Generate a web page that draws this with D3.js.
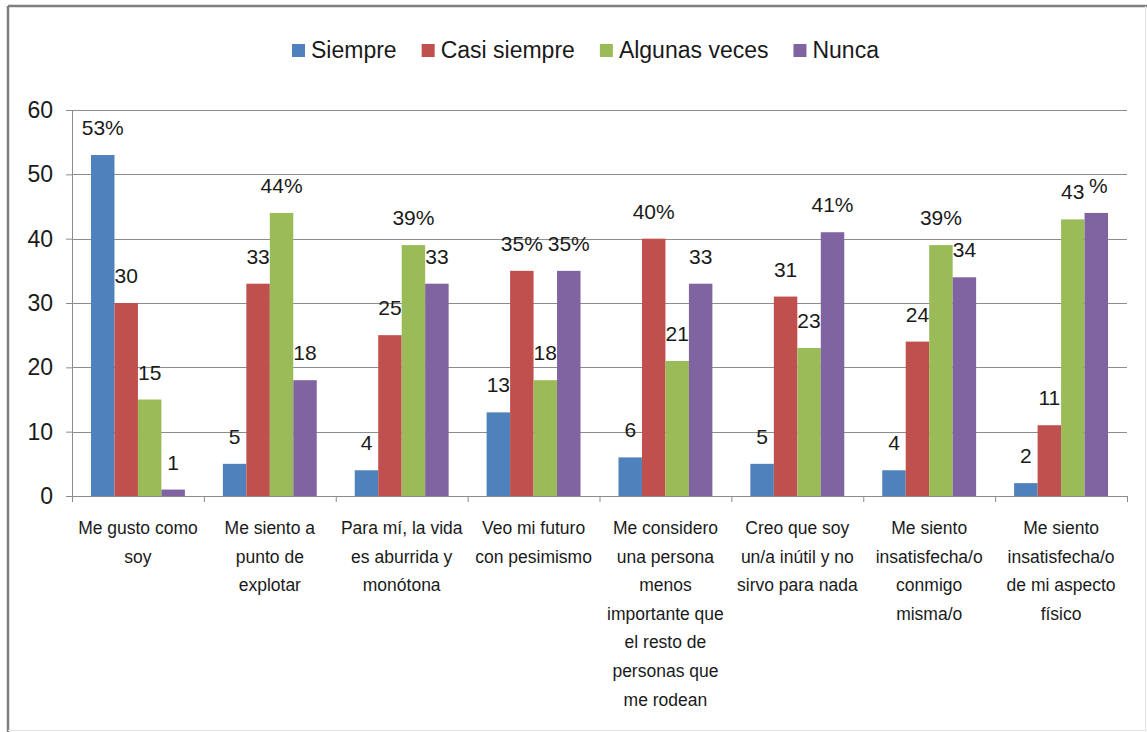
<!DOCTYPE html>
<html>
<head>
<meta charset="utf-8">
<script src="https://cdn.jsdelivr.net/npm/d3@7"></script>
<style>
  html, body { margin: 0; padding: 0; background: #fff; }
  svg { display: block; }
  text { font-family: "Liberation Sans", Arial, sans-serif; fill: #1a1a1a; }
</style>
</head>
<body>
<svg id="chart" width="1147" height="732"></svg>
<script>
// ---- data ----
const categories = [
  "Me gusto como\nsoy",
  "Me siento a\npunto de\nexplotar",
  "Para mí, la vida\nes aburrida y\nmonótona",
  "Veo mi futuro\ncon pesimismo",
  "Me considero\nuna persona\nmenos\nimportante que\nel resto de\npersonas que\nme rodean",
  "Creo que soy\nun/a inútil y no\nsirvo para nada",
  "Me siento\ninsatisfecha/o\nconmigo\nmisma/o",
  "Me siento\ninsatisfecha/o\nde mi aspecto\nfísico"
];
const seriesNames = ["Siempre", "Casi siempre", "Algunas veces", "Nunca"];
const seriesColors = ["#4F81BD", "#C0504D", "#9BBB59", "#8064A2"];
const siempre      = [53, 5, 4, 13, 6, 5, 4, 2];
const casiSiempre  = [30, 33, 25, 35, 40, 31, 24, 11];
const algunasVeces = [15, 44, 39, 18, 21, 23, 39, 43];
const nunca        = [1, 18, 33, 35, 33, 41, 34, 44];
const labelsSiempre      = ["53%", "5", "4", "13", "6", "5", "4", "2"];
const labelsCasiSiempre  = ["30", "33", "25", "35%", "40%", "31", "24", "11"];
const labelsAlgunasVeces = ["15", "44%", "39%", "18", "21", "23", "39%", "43"];
const labelsNunca        = ["1", "18", "33", "35%", "33", "41%", "34", "%"];
const yTicks = [0, 10, 20, 30, 40, 50, 60];

const seriesValues = [siempre, casiSiempre, algunasVeces, nunca];
const seriesLabels = [labelsSiempre, labelsCasiSiempre, labelsAlgunasVeces, labelsNunca];

// ---- layout ----
const svg = d3.select("#chart");
const plotLeft = 72, plotRight = 1127, plotTop = 110, plotBottom = 496;

// outer frame
svg.append("line").attr("x1", 8).attr("y1", 6).attr("x2", 1147).attr("y2", 6)
  .attr("stroke", "#7f7f7f").attr("stroke-width", 2.5);
svg.append("line").attr("x1", 8).attr("y1", 6).attr("x2", 8).attr("y2", 732)
  .attr("stroke", "#7f7f7f").attr("stroke-width", 2.5);
svg.append("line").attr("x1", 1145.5).attr("y1", 6).attr("x2", 1145.5).attr("y2", 730)
  .attr("stroke", "#e3e3e3").attr("stroke-width", 1);
svg.append("line").attr("x1", 8).attr("y1", 730.5).attr("x2", 1146).attr("y2", 730.5)
  .attr("stroke", "#e3e3e3").attr("stroke-width", 1);

const idx = d3.range(categories.length);
const x0 = d3.scaleBand().domain(idx).range([plotLeft, plotRight]).paddingInner(0.288).paddingOuter(0.144);
const x1 = d3.scaleBand().domain(d3.range(seriesNames.length)).range([0, x0.bandwidth()]);
const y = d3.scaleLinear().domain([0, 60]).range([plotBottom, plotTop]);
const xb = d3.scaleLinear().domain([0, categories.length]).range([plotLeft, plotRight]);

// gridlines
svg.append("g").selectAll("line").data(yTicks.filter(v => v > 0)).join("line")
  .attr("x1", plotLeft).attr("x2", plotRight)
  .attr("y1", d => Math.round(y(d)) + 0.5).attr("y2", d => Math.round(y(d)) + 0.5)
  .attr("stroke", "#8c8c8c").attr("stroke-width", 1);

// bars
const groups = svg.append("g").selectAll("g").data(idx).join("g")
  .attr("transform", i => `translate(${x0(i)},0)`);
groups.selectAll("rect")
  .data(i => seriesValues.map((vals, s) => ({ s, v: vals[i], label: seriesLabels[s][i] })))
  .join("rect")
  .attr("x", d => x1(d.s))
  .attr("width", x1.bandwidth())
  .attr("y", d => y(d.v))
  .attr("height", d => y(0) - y(d.v))
  .attr("fill", d => seriesColors[d.s]);

// data labels
groups.selectAll("text.lbl")
  .data(i => seriesValues.map((vals, s) => ({ s, v: vals[i], label: seriesLabels[s][i] })))
  .join("text")
  .attr("class", "lbl")
  .attr("x", d => x1(d.s) + x1.bandwidth() / 2 + (d.label === "%" ? 2 : 0))
  .attr("y", d => y(d.v) - 20)
  .attr("text-anchor", "middle")
  .style("font-size", "21px")
  .text(d => d.label);

// y axis
const yAxis = svg.append("g").attr("transform", `translate(${plotLeft},0)`)
  .call(d3.axisLeft(y).tickValues(yTicks).tickSize(6).tickPadding(13));
yAxis.select(".domain").attr("stroke", "#8c8c8c");
yAxis.selectAll(".tick line").attr("stroke", "#8c8c8c");
yAxis.selectAll(".tick text").style("font-size", "23px").style("font-family", "Liberation Sans, Arial, sans-serif").attr("fill", "#1a1a1a");

// x axis (category boundaries)
const xAxis = svg.append("g").attr("transform", `translate(0,${plotBottom})`)
  .call(d3.axisBottom(xb).tickValues(d3.range(categories.length + 1)).tickSize(6).tickFormat(""));
xAxis.select(".domain").attr("stroke", "#8c8c8c").attr("d", `M${plotLeft - 6},0.5H${plotRight}`);
xAxis.selectAll(".tick line").attr("stroke", "#8c8c8c");

// category labels
const catText = svg.append("g").selectAll("text").data(idx).join("text")
  .attr("text-anchor", "middle")
  .style("font-size", "17.5px")
  .attr("transform", i => `translate(${x0(i) + x0.bandwidth() / 2},534)`);
catText.selectAll("tspan").data(i => categories[i].split("\n")).join("tspan")
  .attr("x", 0).attr("y", (d, k) => k * 28.6).text(d => d);

// legend
const legend = svg.append("g");
let lx = 292;
seriesNames.forEach((name, s) => {
  legend.append("rect").attr("x", lx).attr("y", 44).attr("width", 13).attr("height", 13)
    .attr("fill", seriesColors[s]);
  const t = legend.append("text").attr("x", lx + 19).attr("y", 58)
    .style("font-size", "23px").text(name);
  lx += 19 + t.node().getComputedTextLength() + 25;
});
</script>
</body>
</html>
